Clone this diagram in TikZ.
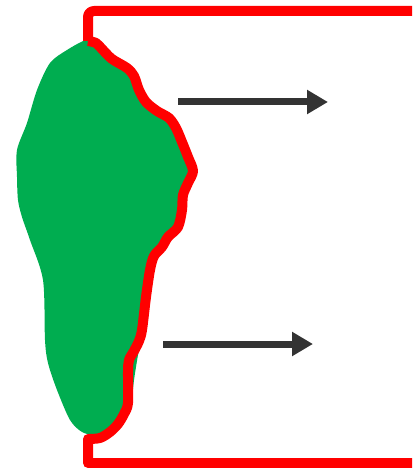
\documentclass[tikz,border=0pt]{standalone}
\usetikzlibrary{arrows.meta}
\definecolor{blobgreen}{RGB}{0,173,80}
\definecolor{framered}{RGB}{255,0,0}
\definecolor{arrowgray}{RGB}{51,51,51}
\tikzset{
  blob/.style={fill=blobgreen, draw=none},
  frame/.style={draw=framered, line width=10pt, line join=round},
  flowarrow/.style={draw=arrowgray, line width=7pt, -{Triangle[length=21pt,width=23pt]}}
}
\begin{document}
\begin{tikzpicture}[x=1pt,y=-1pt]
\useasboundingbox (0,0) rectangle (412,468);
% green blob
\fill[blob] plot[smooth cycle, tension=0.5] coordinates {
(86,40) (96,43) (102,49) (112,59) (127,68) (134,76) (139,90) (146,102)
(157,111) (169,118) (176,128) (182,142) (190,155) (196,172) (188,183)
(183,195) (182,210) (178,225) (168,236) (160,246) (152,256) (148,270)
(144,297) (141,340) (138,355) (134,380) (131,405) (125,415) (118,424)
(108,432) (95,435) (82,432) (70,420) (57,390) (48,363) (45,340) (43,280)
(30,240) (22,217) (18,200) (17,177) (17,150) (27,123) (37,90) (50,63) (67,50)};
% red frame
\draw[frame] [rounded corners=6pt] (412,11) -- (88,11) -- (88,41) [sharp corners]
  plot[smooth, tension=0.5] coordinates {
(88,41) (96,43) (102,49) (112,59) (127,68) (134,76) (139,90) (146,102)
(157,111) (169,118) (176,128) (182,142) (188,157) (193,171) (188,183)
(183,195) (182,210) (178,227) (168,237) (162,247) (154,256) (150,270)
(146,297) (142,330) (139,341) (134,351) (129,360) (128,372) (128,403)
(124,414) (118,424) (110,432) (100,438) (88,439)}
  -- (88,463) -- (412,463);
% arrows
\coordinate (a1s) at (178,102);
\coordinate (a1e) at (328,102);
\coordinate (a2s) at (163,344);
\coordinate (a2e) at (313,344);
\draw[flowarrow] (a1s) -- (a1e);
\draw[flowarrow] (a2s) -- (a2e);
\end{tikzpicture}
\end{document}
